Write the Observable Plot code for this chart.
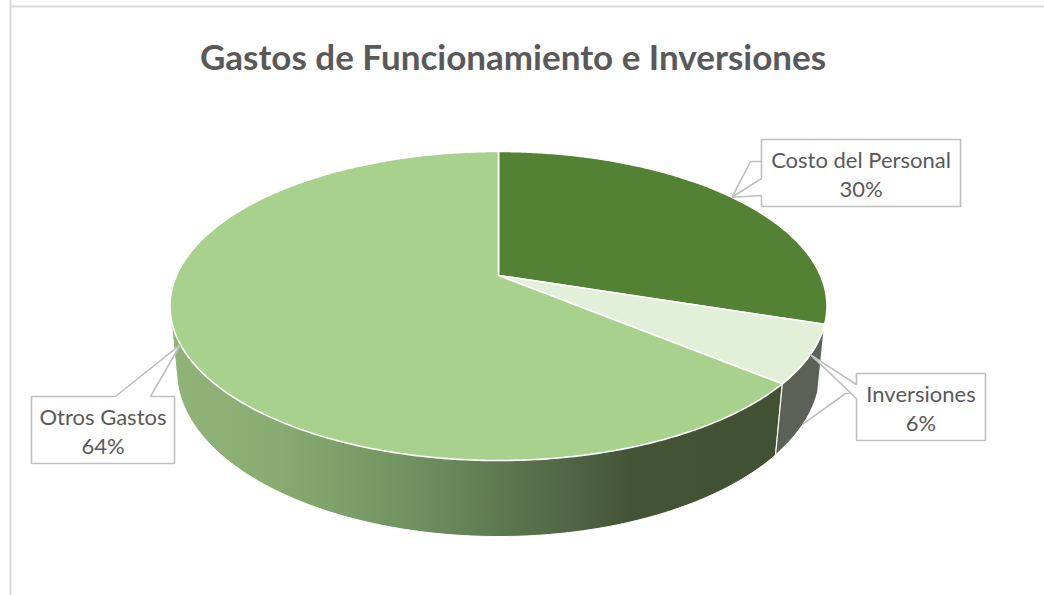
<!DOCTYPE html>
<html>
<head>
<meta charset="utf-8">
<script src="https://cdn.jsdelivr.net/npm/d3@7"></script>
<script src="https://cdn.jsdelivr.net/npm/@observablehq/plot@0.6"></script>
<style>
html,body{margin:0;padding:0;background:#fff;}
svg{display:block;}
</style>
</head>
<body>
<div id="chart"></div>
<script>
const chartTitle = "Gastos de Funcionamiento e Inversiones";
const categories = ["Costo del Personal", "Inversiones", "Otros Gastos"];
const shares = [30, 6, 64];
const topColors = ["#548235", "#E2EFD9", "#A9D18E"];

// Perspective rings of the tilted pie, in chart units (1 unit = 1 px)
const W = 1044, H = 595;
const topRing = {cx: 498, cy: 275, A: 322, B: 148.5, k: 0.1974};
const baseRing = {cx: 498, cy: 338.5, A: 316, B: 160, k: 0.19};
const rim = (r, t) => {
  const d = 1 + r.k * Math.cos(t);
  return {x: r.cx + r.A * Math.sin(t) / d, y: r.cy - r.B * Math.cos(t) / d};
};
const toAngle = (p) => (p / 100) * 2 * Math.PI;

let acc = 0;
const slices = categories.map((name, i) => {
  const a0 = toAngle(acc);
  acc += shares[i];
  const a1 = toAngle(acc);
  return {name, share: shares[i], a0, a1, mid: (a0 + a1) / 2};
});
const arc = (r, a0, a1) => {
  const n = Math.max(2, Math.ceil((a1 - a0) / 0.01));
  return d3.range(n + 1).map((j) => rim(r, a0 + (a1 - a0) * j / n));
};

const topPts = slices.flatMap((s) => {
  const pts = [{x: topRing.cx, y: topRing.cy}, ...arc(topRing, s.a0, s.a1), {x: topRing.cx, y: topRing.cy}];
  return pts.map((p) => ({...p, name: s.name}));
});
const sidePts = (s) => {
  const a = arc(topRing, s.a0, s.a1), b = arc(baseRing, s.a0, s.a1).reverse();
  return [...a, ...b, a[0]].map((p) => ({...p, name: s.name}));
};
// The wall's outline includes the straight silhouette joining the two rings
const sideHull = (s) => {
  const all = [...arc(topRing, s.a0, s.a1), ...arc(baseRing, s.a0, s.a1)];
  const hull = d3.polygonHull(all.map((p) => [p.x, p.y]));
  return [...hull, hull[0]].map(([x, y]) => ({x, y, name: s.name}));
};

// Callout boxes: [left, top, right, bottom]
const boxes = [[761, 139, 960, 206], [856, 373, 985, 440], [31, 396, 174, 463]];
const wedgeSpans = [[178, 195], [384, 398], [115, 150]];

const callout = (i) => {
  const [l, t, r, b] = boxes[i], [w0, w1] = wedgeSpans[i];
  const tip = rim(topRing, slices[i].mid);
  const name = slices[i].name;
  const pts = i === 2
    ? [[l, t], [w0, t], [tip.x, tip.y], [w1, t], [r, t], [r, b], [l, b], [l, t]]
    : [[l, t], [r, t], [r, b], [l, b], [l, w1], [tip.x, tip.y], [l, w0], [l, t]];
  return pts.map(([x, y]) => ({x, y, name}));
};
const calloutPts = slices.flatMap((_, i) => callout(i));
const leaders = [
  ...[[761, 161], [750, 161], [rim(topRing, slices[0].mid).x, rim(topRing, slices[0].mid).y]].map(([x, y]) => ({x, y, name: "a"})),
  ...[[856, 393], [845, 393], [rim(baseRing, slices[1].mid).x, rim(baseRing, slices[1].mid).y]].map(([x, y]) => ({x, y, name: "b"}))
];
const labels = slices.map((s, i) => ({
  x: (boxes[i][0] + boxes[i][2]) / 2,
  y: (boxes[i][1] + boxes[i][3]) / 2,
  text: `${s.name}\n${s.share}%`
}));

const gradient = () => {
  const defs = d3.create("svg:defs");
  const g = defs.append("linearGradient").attr("id", "sideOtros").attr("x1", 0).attr("x2", 1).attr("y1", 0).attr("y2", 0);
  [[0, "#90b478"], [0.18, "#88ab71"], [0.4, "#6f9160"], [0.6, "#566e4a"], [0.76, "#435336"], [1, "#425133"]]
    .forEach(([o, c]) => g.append("stop").attr("offset", o).attr("stop-color", c));
  return defs.node();
};

const font = "Lato, Carlito, Calibri, sans-serif";
const chart = Plot.plot({
  width: W, height: H,
  margin: 0,
  style: {background: "#fff", fontFamily: font},
  x: {domain: [0, W], range: [0, W], axis: null},
  y: {domain: [0, H], range: [0, H], axis: null},
  color: {type: "ordinal", domain: categories, range: topColors},
  marks: [
    gradient,
    Plot.ruleY([6], {x1: 10, x2: W, stroke: "#d9d9d9", strokeWidth: 2}),
    Plot.ruleX([10], {y1: 0, y2: H, stroke: "#d9d9d9", strokeWidth: 2}),
    Plot.line(sidePts(slices[0]), {x: "x", y: "y", fill: "#3f5a2a", stroke: "#fff", strokeWidth: 1}),
    Plot.line(sideHull(slices[2]), {x: "x", y: "y", fill: "url(#sideOtros)", stroke: "#fff", strokeWidth: 1}),
    Plot.line(sidePts(slices[1]), {x: "x", y: "y", fill: "#5b6156", stroke: "#fff", strokeWidth: 1.2}),
    Plot.line(leaders, {x: "x", y: "y", z: "name", stroke: "#bfbfbf", strokeWidth: 1.6}),
    Plot.line(topPts, {x: "x", y: "y", z: "name", fill: "name", stroke: "#fff", strokeWidth: 1.6, strokeLinejoin: "round"}),
    Plot.line(calloutPts, {x: "x", y: "y", z: "name", fill: "#fff", stroke: "#bfbfbf", strokeWidth: 1.6, strokeLinejoin: "miter"}),
    Plot.text(labels, {x: "x", y: "y", text: "text", fill: "#595959", fontSize: 22, lineHeight: 1.35, textAnchor: "middle", lineAnchor: "middle", fontFamily: font}),
    Plot.text([chartTitle], {x: () => 512.5, y: () => 58, text: (d) => d, fill: "#595959", fontSize: 35, fontWeight: 700, textAnchor: "middle", lineAnchor: "middle", fontFamily: font})
  ]
});
document.getElementById("chart").appendChild(chart);
</script>
</body>
</html>
